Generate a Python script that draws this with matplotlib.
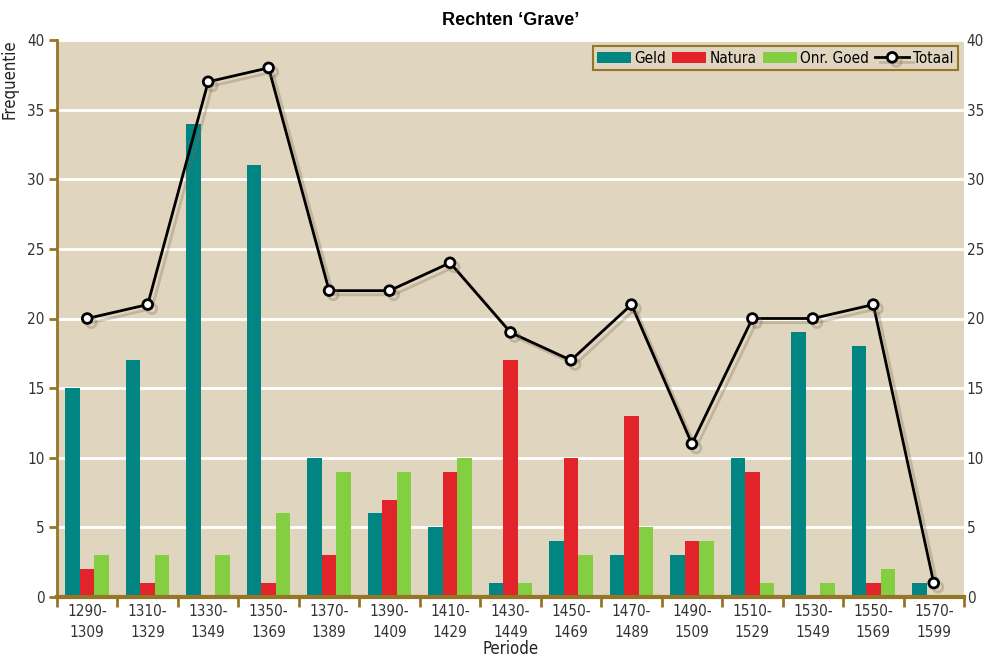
import matplotlib
matplotlib.use("Agg")
import matplotlib.pyplot as plt
import matplotlib.patheffects as pe
import numpy as np

periods = ["1290-\n1309", "1310-\n1329", "1330-\n1349", "1350-\n1369", "1370-\n1389",
           "1390-\n1409", "1410-\n1429", "1430-\n1449", "1450-\n1469", "1470-\n1489",
           "1490-\n1509", "1510-\n1529", "1530-\n1549", "1550-\n1569", "1570-\n1599"]
geld = [15, 17, 34, 31, 10, 6, 5, 1, 4, 3, 3, 10, 19, 18, 1]
natura = [2, 1, 0, 1, 3, 7, 9, 17, 10, 13, 4, 9, 0, 1, 0]
onr_goed = [3, 3, 3, 6, 9, 9, 10, 1, 3, 5, 4, 1, 1, 2, 0]
totaal = [20, 21, 37, 38, 22, 22, 24, 19, 17, 21, 11, 20, 20, 21, 1]
yticks = [0, 5, 10, 15, 20, 25, 30, 35, 40]

plt.rcParams['font.family'] = ['DejaVu Sans']
plt.rcParams['font.stretch'] = 'condensed'

brown = "#957628"
bg = "#e0d5bf"
teal = "#008583"
red = "#e2232a"
green = "#84cf41"
txt = "#333333"

fig = plt.figure(figsize=(9.87, 6.57), dpi=100)
ax = fig.add_axes([57/987, 1-597/657, (964-57)/987, (597-40)/657])
ax.set_facecolor(bg)

x = np.arange(len(periods))
w = 0.24
b1 = ax.bar(x - w, geld, w, color=teal, label="Geld", zorder=2)
b2 = ax.bar(x, natura, w, color=red, label="Natura", zorder=2)
b3 = ax.bar(x + w, onr_goed, w, color=green, label="Onr. Goed", zorder=2)
ln, = ax.plot(x, totaal, color="black", lw=2, marker="o", ms=7, mfc="white", mec="black",
              mew=2, label="Totaal", zorder=4,
              path_effects=[pe.SimpleLineShadow(offset=(3, -3), shadow_color="#7a6a50", alpha=0.3, rho=1), pe.Normal()])

ax.set_xlim(-0.5, len(periods) - 0.5)
ax.set_ylim(0, 40)
ax.set_yticks(yticks)
ax.yaxis.grid(True, color="white", lw=2, zorder=1)
ax.set_axisbelow(True)

ax.set_xticks(x)
ax.set_xticklabels(periods, fontsize=11, color=txt, linespacing=1.5)
ax.tick_params(axis="x", length=0, pad=5)
ax.set_xticks(np.arange(len(periods) + 1) - 0.5, minor=True)
ax.tick_params(axis="x", which="minor", length=7, width=2, color=brown)

ax.tick_params(axis="y", length=6, width=2, color=brown,
               labelsize=11, labelcolor=txt, pad=3)

ax2 = ax.twinx()
ax2.set_ylim(0, 40)
ax2.set_yticks(yticks)
ax2.tick_params(axis="y", length=0, labelsize=11, labelcolor=txt, pad=2)
for s in ax2.spines.values():
    s.set_visible(False)

for s in ["top", "right"]:
    ax.spines[s].set_visible(False)
ax.spines["left"].set_color(brown)
ax.spines["left"].set_linewidth(2)
ax.spines["bottom"].set_color(brown)
ax.spines["bottom"].set_linewidth(3)

ax.set_xlabel("Periode", fontsize=12, color="#222222", labelpad=0)
ax.set_ylabel("Frequentie", fontsize=12, color="#222222")
ax.yaxis.set_label_coords(-0.042, 0.93)

ax.set_title("Rechten \u2018Grave\u2019", fontsize=13, fontweight="bold",
             family=["Liberation Sans", "DejaVu Sans"], fontstretch="normal", pad=11)

leg = ax2.legend([b1, b2, b3, ln], ["Geld", "Natura", "Onr. Goed", "Totaal"],
                 loc="upper right", ncol=4, fontsize=11, frameon=True, fancybox=False,
                 handlelength=2.2, handleheight=0.7, columnspacing=0.4, handletextpad=0.25,
                 borderaxespad=0.4, borderpad=0.3)
leg.get_frame().set_edgecolor(brown)
leg.get_frame().set_linewidth(1.5)
leg.get_frame().set_facecolor(bg)
leg.get_frame().set_alpha(1)

fig.savefig("out.png", dpi=100)
